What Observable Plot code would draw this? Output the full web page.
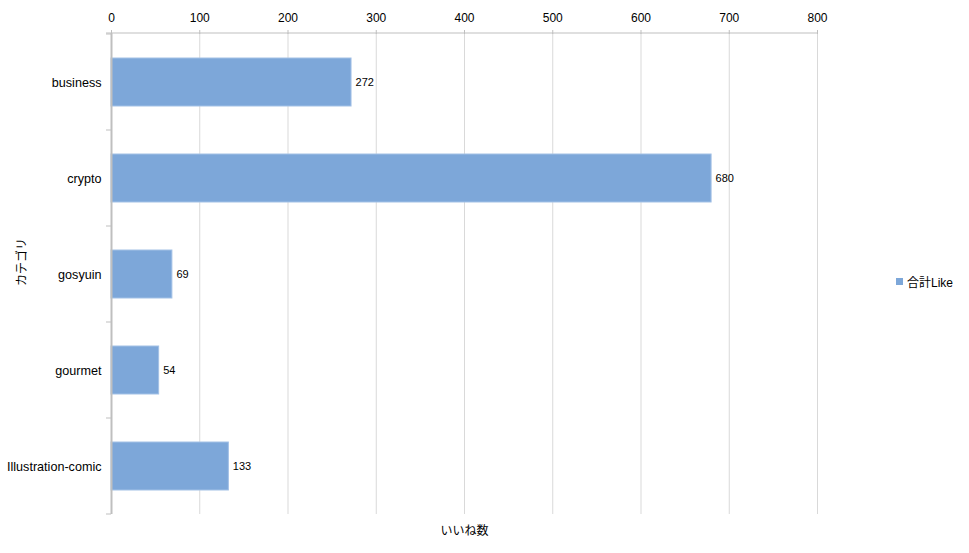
<!DOCTYPE html>
<html><head><meta charset="utf-8">
<script src="https://cdn.jsdelivr.net/npm/d3@7"></script>
<script src="https://cdn.jsdelivr.net/npm/@observablehq/plot@0.6"></script>
<style>
body{margin:0;background:#fff;font-family:"Liberation Sans",Arial,"Noto Sans CJK JP",sans-serif}
#wrap{position:relative;width:969px;height:553px}
#legend{position:absolute;left:896px;top:273px;font-size:12px;display:flex;align-items:center;color:#000;font-family:"Liberation Sans","Noto Sans CJK JP",sans-serif}
#legend span.sw{display:inline-block;width:7px;height:7px;background:#7da7d9;margin-right:4px}
</style></head><body><div id="wrap"></div>
<script>
const categories = ["business","crypto","gosyuin","gourmet","Illustration-comic"];
const likes = [272,680,69,54,133];
const xTicks = [0,100,200,300,400,500,600,700,800];
const seriesName = "合計Like";
const xLabel = "いいね数";
const yLabel = "カテゴリ";

const data = categories.map((c,i)=>({category:c, value:likes[i]}));

function frameLines(index, scales, values, dims) {
  const y = scales.y;
  const step = y.step(), bw = y.bandwidth();
  const ys = categories.map(c => y(c) - (step - bw)/2);
  ys.push(y(categories[categories.length-1]) + bw + (step - bw)/2);
  const g = d3.create("svg:g");
  const x0 = dims.marginLeft, x1 = dims.width - dims.marginRight;
  g.selectAll("line.t").data(ys).join("line")
    .attr("x1", x0 - 5).attr("x2", x0).attr("y1", d=>d).attr("y2", d=>d)
    .attr("stroke", "#bfbfbf");
  g.append("line").attr("x1", x0 - 5).attr("x2", x1)
    .attr("y1", dims.marginTop).attr("y2", dims.marginTop).attr("stroke", "#bfbfbf");
  return g.node();
}

const chart = Plot.plot({
  width: 969,
  height: 553,
  marginTop: 33,
  marginBottom: 39,
  marginLeft: 111,
  marginRight: 152,
  style: {fontFamily: "'Liberation Sans', Arial, sans-serif", fontSize: "12px", color: "#000", background: "#fff"},
  x: {domain: [0, 800]},
  y: {domain: categories, paddingInner: 0.5, paddingOuter: 0.25},
  marks: [
    Plot.gridX(xTicks, {stroke: "#d9d9d9", strokeOpacity: 1}),
    Plot.barX(data, {x: "value", y: "category", fill: "#7da7d9", stroke: "#a3c1e6", strokeWidth: 1}),
    Plot.ruleX([0], {stroke: "#bfbfbf", strokeWidth: 2}),
    frameLines,
    Plot.axisX(xTicks, {anchor: "top", tickSize: 4, tickPadding: 8, stroke: "#bfbfbf", fill: "#000", fontSize: 12, label: null}),
    Plot.axisY({tickSize: 0, tickPadding: 10, fill: "#000", fontSize: 12.6, label: null}),
    Plot.text(data, {x: "value", y: "category", text: d => String(d.value), textAnchor: "start", dx: 4, fontSize: 11, fill: "#000"}),
    Plot.text([xLabel], {frameAnchor: "bottom", dy: 20, fontSize: 12, fill: "#000", fontFamily: "'Noto Sans CJK JP', sans-serif"}),
    Plot.text([yLabel], {frameAnchor: "left", dx: -89, dy: 12, rotate: -90, fontSize: 12, fill: "#000", fontFamily: "'Noto Sans CJK JP', sans-serif"})
  ]
});
const wrap = document.getElementById("wrap");
wrap.appendChild(chart);
const lg = document.createElement("div");
lg.id = "legend";
lg.innerHTML = '<span class="sw"></span><span></span>';
lg.lastChild.textContent = seriesName;
wrap.appendChild(lg);
</script>
</body></html>
